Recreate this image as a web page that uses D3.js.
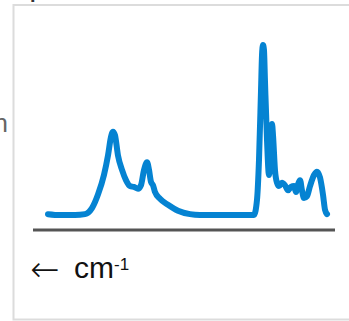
<!DOCTYPE html>
<html>
<head>
    <meta charset="utf-8" />
    <title>IR spectrum</title>
    <style>
        body { margin: 0; background: #fff; }
        svg { display: block; }
    </style>
</head>
<body>
    <script src="https://cdn.jsdelivr.net/npm/d3@7"></script>

    <script>

        // wavenumbers (cm-1), read left to right
        let wavenumbers = [4000, 3854, 3671, 3549, 3464, 3391, 3318, 3269, 3232, 3208, 3184, 3147, 3098, 3050,
                           3001, 2952, 2903, 2867, 2830, 2793, 2769, 2745, 2720, 2696, 2635, 2538, 2416, 2270,
                           2148, 1782, 1490, 1453, 1429, 1404, 1392, 1380, 1368, 1356, 1331, 1307, 1295, 1283,
                           1270, 1258, 1234, 1210, 1185, 1149, 1112, 1075, 1039, 1002, 978, 953, 929, 905,
                           880, 844, 807, 758, 722, 685, 649, 624, 600]

        let absorbance = [0.005, 0, 0, 0.005, 0.04, 0.12, 0.235, 0.35, 0.46, 0.49, 0.47, 0.35, 0.265, 0.205,
                          0.17, 0.165, 0.155, 0.175, 0.265, 0.31, 0.265, 0.195, 0.175, 0.135, 0.095, 0.06, 0.025, 0.005,
                          0, 0, 0, 0.09, 0.32, 0.735, 0.94, 1.0, 0.97, 0.79, 0.44, 0.235, 0.295, 0.47,
                          0.535, 0.47, 0.265, 0.19, 0.17, 0.19, 0.175, 0.145, 0.165, 0.17, 0.135, 0.18, 0.205, 0.145,
                          0.1, 0.11, 0.17, 0.235, 0.255, 0.22, 0.12, 0.03, 0.005]

        let xLabel = 'cm',
            xLabelSup = '-1',
            yLabel = 'Absorption'

        let width = 349,
            height = 321

        let svg = d3.select('body')
                    .append('svg')
                    .attr('width', width)
                    .attr('height', height)

        // panel border
        svg.append('rect')
            .attr('x', 13.5)
            .attr('y', 5)
            .attr('width', 360)
            .attr('height', 314.5)
            .attr('fill', 'none')
            .attr('stroke', '#dcdcdc')
            .attr('stroke-width', 2)

        // clipped title (only the descender shows)
        svg.append('text')
            .attr('x', 30)
            .attr('y', -2.5)
            .style('font-family', 'Liberation Sans, Arial, sans-serif')
            .style('font-weight', 'bold')
            .style('font-size', '20px')
            .style('fill', '#333')
            .text('p')

        // clipped y label
        svg.append('text')
            .attr('x', 8)
            .attr('y', 132)
            .attr('text-anchor', 'end')
            .style('font-family', 'Liberation Sans, Arial, sans-serif')
            .style('font-size', '26px')
            .style('fill', '#666')
            .text(yLabel)

        let x = d3.scaleLinear().domain([4000, 600]).range([48, 327]),
            y = d3.scaleLinear().domain([0, 1]).range([215, 45])

        let data = wavenumbers.map(function (w, i) {
            return { x: w, y: absorbance[i] }
        })

        let line = d3.line()
                    .x(function (d) { return x(d.x) })
                    .y(function (d) { return y(d.y) })
                    .curve(d3.curveMonotoneX)

        svg.append('path')
            .datum(data)
            .attr('d', line)
            .attr('fill', 'none')
            .attr('stroke', '#0583d2')
            .attr('stroke-width', 6)
            .attr('stroke-linejoin', 'round')
            .attr('stroke-linecap', 'round')

        // axis line
        svg.append('line')
            .attr('x1', 33)
            .attr('x2', 335)
            .attr('y1', 230)
            .attr('y2', 230)
            .attr('stroke', '#555')
            .attr('stroke-width', 3)

        // axis label
        svg.append('text')
            .attr('x', 30)
            .attr('y', 281)
            .style('font-family', "'DejaVu Sans Light', 'DejaVu Sans', sans-serif")
            .style('font-size', '35px')
            .style('fill', '#111')
            .text('\u2190')

        let label = svg.append('text')
            .attr('x', 74)
            .attr('y', 278)
            .style('font-family', 'Liberation Sans, Arial, sans-serif')
            .style('font-size', '30px')
            .style('fill', '#111')

        label.append('tspan')
            .text(xLabel)
        label.append('tspan')
            .attr('dy', -8)
            .style('font-size', '17px')
            .text(xLabelSup)

    </script>
</body>
</html>
